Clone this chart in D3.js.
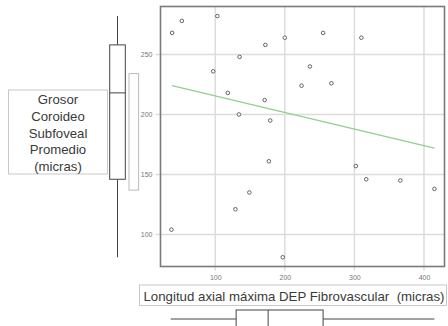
<!DOCTYPE html>
<html>
<head>
<meta charset="utf-8">
<script src="https://cdn.jsdelivr.net/npm/d3@7"></script>
<style>
  html, body { margin: 0; padding: 0; background: #fff; }
  svg { display: block; }
  text { font-family: "Liberation Sans", Arial, Helvetica, sans-serif; }
</style>
</head>
<body>
<svg id="chart" width="448" height="326"></svg>
<script>
// Longitud axial máxima DEP fibrovascular (x) vs grosor coroideo subfoveal (y)
const lengthX = [38, 52, 103, 97, 135, 118, 172, 200, 171, 134, 179,
                 255, 310, 236, 224, 267, 177, 149, 129, 37, 197, 302, 317, 366, 415];
const thicknessY = [268, 278, 282, 236, 248, 218, 258, 264, 212, 200, 195,
                    268, 264, 240, 224, 226, 161, 135, 121, 104, 81, 157, 146, 145, 138];
// fitted trend line endpoints
const trendX = [38, 415];
const trendY = [224, 172];
// marginal box summaries: [min, q1, median, q3, max]
const boxY = [81, 146, 218, 258, 282];
const boxX = [36, 130, 176, 255, 415];
// secondary interval bar beside the y box
const intervalY = [137, 234];
const xTicks = [100, 200, 300, 400];
const yTicks = [100, 150, 200, 250];
const yTitleLines = ["Grosor", "Coroideo", "Subfoveal", "Promedio", "(micras)"];
const xTitle = "Longitud axial máxima DEP Fibrovascular  (micras)";

const svg = d3.select("#chart");
const plotL = 160.5, plotR = 444.5, plotT = 6.5, plotB = 266.5;

const x = d3.scaleLinear().domain([21.3, 429.5]).range([plotL, plotR]);
const y = d3.scaleLinear().domain([73.3, 290]).range([plotB, plotT]);

// grid
svg.append("g").selectAll("line").data(xTicks).join("line")
  .attr("x1", d => x(d)).attr("x2", d => x(d))
  .attr("y1", plotT).attr("y2", plotB + 4)
  .attr("stroke", "#dcdcdc").attr("stroke-width", 1.5);
svg.append("g").selectAll("line").data(yTicks).join("line")
  .attr("x1", plotL - 5).attr("x2", plotR)
  .attr("y1", d => y(d)).attr("y2", d => y(d))
  .attr("stroke", "#dcdcdc").attr("stroke-width", 1.5);

// axis labels
const yAxis = d3.axisLeft(y).tickValues(yTicks).tickSize(0).tickPadding(8);
const gy = svg.append("g").attr("transform", `translate(${plotL},0)`).call(yAxis);
gy.select(".domain").remove();
gy.selectAll("text").attr("font-size", 7).attr("fill", "#777");

const xAxis = d3.axisBottom(x).tickValues(xTicks).tickSize(0).tickPadding(9);
const gx = svg.append("g").attr("transform", `translate(0,${plotB})`).call(xAxis);
gx.select(".domain").remove();
gx.selectAll("text").attr("font-size", 7).attr("fill", "#777");

// frame
svg.append("rect")
  .attr("x", plotL).attr("y", plotT)
  .attr("width", plotR - plotL).attr("height", plotB - plotT)
  .attr("fill", "none").attr("stroke", "#7a7a7a").attr("stroke-width", 1.6);

// trend line
svg.append("line")
  .attr("x1", x(trendX[0])).attr("y1", y(trendY[0]))
  .attr("x2", x(trendX[1])).attr("y2", y(trendY[1]))
  .attr("stroke", "#8fd08f").attr("stroke-width", 1.2);

// points
svg.append("g").selectAll("circle").data(lengthX.map((v, i) => [v, thicknessY[i]])).join("circle")
  .attr("cx", d => x(d[0])).attr("cy", d => y(d[1])).attr("r", 1.8)
  .attr("fill", "#fff").attr("stroke", "#555").attr("stroke-width", 0.9);

// vertical marginal box (y)
const bx0 = 109.7, bx1 = 125.3, bxc = 117.5;
const gb = svg.append("g").attr("stroke", "#444").attr("stroke-width", 1).attr("fill", "none");
gb.append("line").attr("x1", bxc).attr("x2", bxc).attr("y1", y(boxY[4])).attr("y2", y(boxY[3]));
gb.append("line").attr("x1", bxc).attr("x2", bxc).attr("y1", y(boxY[1])).attr("y2", y(boxY[0]));
gb.append("rect").attr("x", bx0).attr("width", bx1 - bx0)
  .attr("y", y(boxY[3])).attr("height", y(boxY[1]) - y(boxY[3])).attr("fill", "#fff");
gb.append("line").attr("x1", bx0).attr("x2", bx1).attr("y1", y(boxY[2])).attr("y2", y(boxY[2]));

svg.append("rect").attr("x", 129).attr("width", 9.7)
  .attr("y", y(intervalY[1])).attr("height", y(intervalY[0]) - y(intervalY[1]))
  .attr("fill", "none").attr("stroke", "#aaa").attr("stroke-width", 0.8);

// y title box
svg.append("rect").attr("x", 8.5).attr("y", 90).attr("width", 99).attr("height", 84)
  .attr("fill", "#fff").attr("stroke", "#bbb").attr("stroke-width", 0.8);
svg.append("g").selectAll("text").data(yTitleLines).join("text")
  .attr("x", 58).attr("y", (d, i) => 104 + i * 16.8)
  .attr("text-anchor", "middle").attr("font-size", 13.2).attr("fill", "#3a3a3a")
  .text(d => d);

// x title box
svg.append("rect").attr("x", 139.5).attr("y", 285).attr("width", 307).attr("height", 20.5)
  .attr("fill", "#fff").attr("stroke", "#bbb").attr("stroke-width", 0.8);
svg.append("text").attr("x", 294).attr("y", 300.5)
  .attr("text-anchor", "middle").attr("font-size", 13.4).attr("fill", "#3a3a3a")
  .style("white-space", "pre")
  .attr("textLength", 301).attr("lengthAdjust", "spacingAndGlyphs")
  .text(xTitle);

// horizontal marginal box (x)
const by0 = 310, by1 = 332, byc = 319;
const gh = svg.append("g").attr("stroke", "#444").attr("stroke-width", 1).attr("fill", "none");
gh.append("line").attr("x1", x(boxX[0])).attr("x2", x(boxX[1])).attr("y1", byc).attr("y2", byc);
gh.append("line").attr("x1", x(boxX[3])).attr("x2", x(boxX[4])).attr("y1", byc).attr("y2", byc);
gh.append("rect").attr("x", x(boxX[1])).attr("width", x(boxX[3]) - x(boxX[1]))
  .attr("y", by0).attr("height", by1 - by0).attr("fill", "#fff");
gh.append("line").attr("x1", x(boxX[2])).attr("x2", x(boxX[2])).attr("y1", by0).attr("y2", by1);
</script>
</body>
</html>
